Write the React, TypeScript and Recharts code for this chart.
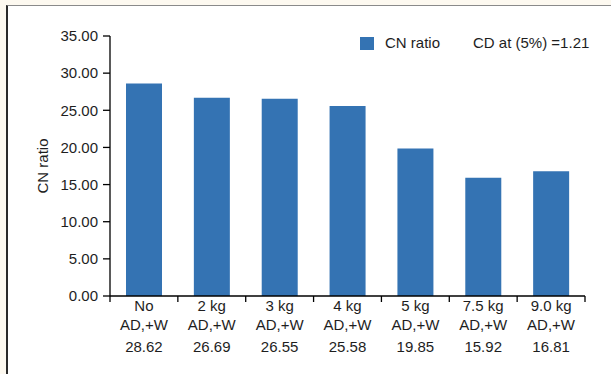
import React from 'react';
import { BarChart, Bar, XAxis, YAxis, Label } from 'recharts';

const categories = ['No', '2 kg', '3 kg', '4 kg', '5 kg', '7.5 kg', '9.0 kg'];
const subLabels = ['AD,+W', 'AD,+W', 'AD,+W', 'AD,+W', 'AD,+W', 'AD,+W', 'AD,+W'];
const cnRatio = [28.62, 26.69, 26.55, 25.58, 19.85, 15.92, 16.81];
const yTicks = [0, 5, 10, 15, 20, 25, 30, 35];
const cdNote = 'CD at (5%) =1.21';

const data = categories.map((name, i) => ({ name, sub: subLabels[i], value: cnRatio[i] }));

const W = 611;
const H = 374;
const MARGIN = { top: 36, right: 26, bottom: 0, left: 0 };
const Y_AXIS_W = 110;
const X_AXIS_H = 78;
const BAR_COLOR = '#3473b3';
const TEXT = '#1e1e1e';
const FONT = '"Liberation Sans", Arial, sans-serif';

const plotWidth = W - MARGIN.left - MARGIN.right - Y_AXIS_W;
const band = plotWidth / categories.length;

const CategoryTick = (props: any) => {
  const { x, y, payload, index } = props;
  const row = data[index] || data.find((d) => d.name === payload.value);
  const left = x - band / 2;
  const right = x + band / 2;
  return (
    <g>
      <line x1={left} y1={y} x2={left} y2={y + 6} stroke="#000" strokeWidth={1.3} />
      {index === categories.length - 1 && (
        <line x1={right} y1={y} x2={right} y2={y + 6} stroke="#000" strokeWidth={1.3} />
      )}
      <text x={x} y={y + 15} textAnchor="middle" fontSize={15} fill={TEXT} fontFamily={FONT}>
        {payload.value}
      </text>
      <text x={x} y={y + 34} textAnchor="middle" fontSize={15} fill={TEXT} fontFamily={FONT}>
        {row ? row.sub : ''}
      </text>
      <text x={x} y={y + 56} textAnchor="middle" fontSize={15} fill={TEXT} fontFamily={FONT}>
        {row ? row.value.toFixed(2) : ''}
      </text>
    </g>
  );
};

const App: React.FC = () => {
  return (
    <div style={{ position: 'relative', width: W, height: H, background: '#fdf9f0', overflow: 'hidden' }}>
      <style>{`body{margin:0}`}</style>
      <div
        style={{
          position: 'absolute',
          left: 6,
          top: 5,
          right: 0,
          bottom: 0,
          background: '#fff',
          borderLeft: '2px solid #2a2a2a',
          borderTop: '1px solid #8a8a8a',
        }}
      />
      <div style={{ position: 'absolute', left: 0, top: 0 }}>
        <BarChart width={W} height={H} data={data} margin={MARGIN} barSize={36}>
          <XAxis
            dataKey="name"
            height={X_AXIS_H}
            interval={0}
            tickLine={false}
            tickSize={0}
            tickMargin={0}
            axisLine={{ stroke: '#000', strokeWidth: 1.3 }}
            tick={<CategoryTick />}
          />
          <YAxis
            width={Y_AXIS_W}
            domain={[0, 35]}
            ticks={yTicks}
            interval={0}
            tickFormatter={(v: number) => v.toFixed(2)}
            tickSize={7}
            tickMargin={5}
            tick={{ fontSize: 15, fill: TEXT, fontFamily: FONT }}
            tickLine={{ stroke: '#000', strokeWidth: 1.3 }}
            axisLine={{ stroke: '#000', strokeWidth: 1.3 }}
          >
            <Label
              content={({ viewBox }: any) => (
                <text
                  x={viewBox.x + 42}
                  y={viewBox.y + viewBox.height / 2}
                  transform={`rotate(-90, ${viewBox.x + 42}, ${viewBox.y + viewBox.height / 2})`}
                  textAnchor="middle"
                  dominantBaseline="central"
                  fontSize={15}
                  fill={TEXT}
                  fontFamily={FONT}
                >
                  CN ratio
                </text>
              )}
            />
          </YAxis>
          <Bar dataKey="value" name="CN ratio" fill={BAR_COLOR} isAnimationActive={false} />
        </BarChart>
      </div>
      <div
        style={{
          position: 'absolute',
          left: 360,
          top: 34,
          display: 'flex',
          alignItems: 'center',
          fontFamily: FONT,
          fontSize: 15,
          color: TEXT,
          lineHeight: '18px',
        }}
      >
        <span style={{ display: 'inline-block', width: 14, height: 13, background: BAR_COLOR, marginRight: 11 }} />
        <span>CN ratio</span>
        <span style={{ marginLeft: 33 }}>{cdNote}</span>
      </div>
    </div>
  );
};

export default App;
